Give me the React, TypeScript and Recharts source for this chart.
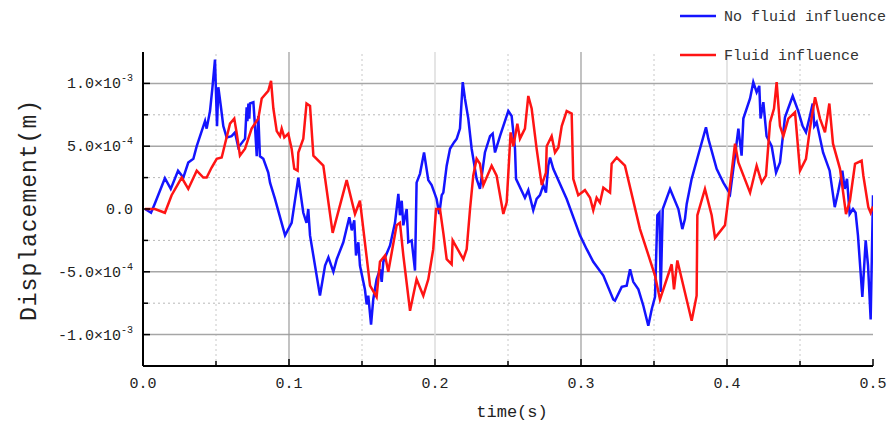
import React from 'react';
import { LineChart, Line, XAxis, YAxis, ReferenceLine } from 'recharts';

// time (s) and displacement (x10^-3 m)
const blueT = [
  0.0014, 0.0055, 0.008, 0.015, 0.019, 0.024, 0.0276, 0.031, 0.0345, 0.0368,
  0.0402, 0.0425, 0.0436, 0.0459, 0.0475, 0.0493, 0.0507, 0.0516, 0.0534, 0.055,
  0.0573, 0.0607, 0.063, 0.0653, 0.0699, 0.071, 0.0715, 0.0722, 0.0728, 0.0733,
  0.0756, 0.0767, 0.0779, 0.079, 0.0801, 0.0824, 0.0858, 0.087, 0.0904, 0.0973,
  0.1018, 0.1064, 0.1098, 0.112, 0.1132, 0.1144, 0.1212, 0.1247, 0.127, 0.1304,
  0.1327, 0.1372, 0.1413, 0.143, 0.1447, 0.1459, 0.1475, 0.1486, 0.152, 0.1532,
  0.1543, 0.1562, 0.1577, 0.16, 0.1623, 0.1635, 0.1646, 0.1692, 0.1726, 0.1749,
  0.176, 0.1772, 0.1783, 0.1806, 0.1817, 0.184, 0.1863, 0.1874, 0.1897, 0.1925,
  0.1954, 0.1977, 0.2011, 0.2029, 0.2046, 0.2057, 0.208, 0.2103, 0.213, 0.2149,
  0.2171, 0.219, 0.2205, 0.2228, 0.2251, 0.2285, 0.2308, 0.2342, 0.2377, 0.2395,
  0.2411, 0.2445, 0.2502, 0.2525, 0.2548, 0.2555, 0.2616, 0.2639, 0.2673, 0.2696,
  0.2719, 0.2742, 0.276, 0.2776, 0.2788, 0.281, 0.2902, 0.2993, 0.3039, 0.3084,
  0.3153, 0.3221, 0.3233, 0.3279, 0.3313, 0.3336, 0.3358, 0.3393, 0.3427, 0.3461,
  0.3484, 0.3507, 0.3523, 0.3537, 0.3546, 0.356, 0.361, 0.3667, 0.3694, 0.3712,
  0.3724, 0.3758, 0.3815, 0.3856, 0.3872, 0.3929, 0.3952, 0.3975, 0.4021, 0.4055,
  0.4078, 0.41, 0.4112, 0.4158, 0.418, 0.4203, 0.4221, 0.423, 0.4249, 0.4271,
  0.4306, 0.4336, 0.4363, 0.4397, 0.445, 0.4488, 0.4518, 0.4541, 0.4568, 0.4587,
  0.4598, 0.4614, 0.4658, 0.4703, 0.4738, 0.476, 0.479, 0.4806, 0.4822, 0.484,
  0.4863, 0.4881, 0.4897, 0.4927, 0.495, 0.4966, 0.4984, 0.5,
];
const blueV = [
  0, -0.03, 0.04, 0.245, 0.16, 0.305, 0.25, 0.37, 0.4, 0.5,
  0.62, 0.7, 0.64, 0.78, 0.96, 1.19, 0.66, 0.97, 0.81, 0.66,
  0.57, 0.58, 0.61, 0.49, 0.56, 0.81, 0.7, 0.84, 0.72, 0.84,
  0.85, 0.66, 0.42, 0.74, 0.42, 0.4, 0.29, 0.21, 0.08, -0.21,
  -0.11, 0.25, -0.03, -0.11, 0, -0.21, -0.69, -0.45, -0.385, -0.5,
  -0.4, -0.265, -0.066, -0.17, -0.09, -0.37, -0.265, -0.45, -0.64, -0.76,
  -0.69, -0.92, -0.72, -0.56, -0.48, -0.58, -0.42, -0.29, -0.11, 0.12,
  -0.05, 0.066, -0.13, 0, -0.265, -0.25, -0.49, 0.21, 0.28, 0.45,
  0.23, 0.19, 0.08, -0.04, 0.11, 0.13, 0.345, 0.48, 0.53, 0.56,
  0.64, 1.01, 0.88, 0.72, 0.48, 0.24, 0.16, 0.45, 0.58, 0.6,
  0.45, 0.58, 0.78, 0.74, 0.48, 0.24, 0.09, 0.15, -0.01, 0.08,
  0.11, 0.19, 0.13, 0.345, 0.41, 0.32, 0.08, -0.21, -0.32, -0.42,
  -0.53, -0.72, -0.73, -0.62, -0.61, -0.48, -0.58, -0.64, -0.77, -0.93,
  -0.8, -0.7, -0.05, -0.03, -0.66, 0, 0.16, 0, -0.16, -0.08,
  0.04, 0.24, 0.48, 0.65, 0.56, 0.32, 0.265, 0.21, 0.12, 0.425,
  0.64, 0.425, 0.72, 0.88, 1.01, 0.93, 0.98, 0.72, 0.85, 0.58,
  0.5, 0.29, 0.37, 0.73, 0.9, 0.78, 0.66, 0.61, 0.74, 0.84,
  0.66, 0.69, 0.45, 0.305, 0.015, 0.13, 0.305, 0.16, 0.24, -0.04,
  0, -0.03, -0.21, -0.7, -0.25, -0.45, -0.88, 0.11,
];

const redT = [
  0.0014, 0.0082, 0.015, 0.0196, 0.0265, 0.031, 0.0368, 0.0413, 0.0436, 0.047,
  0.0505, 0.0539, 0.0562, 0.0596, 0.0625, 0.0641, 0.0664, 0.0699, 0.0744, 0.079,
  0.0813, 0.0858, 0.0877, 0.0893, 0.0916, 0.0938, 0.095, 0.0968, 0.0995, 0.1018,
  0.1036, 0.1059, 0.1064, 0.1098, 0.112, 0.1144, 0.1167, 0.1235, 0.1299, 0.1395,
  0.1452, 0.1486, 0.1555, 0.16, 0.1623, 0.1658, 0.168, 0.1737, 0.176, 0.1783,
  0.1829, 0.1874, 0.192, 0.1954, 0.1988, 0.2007, 0.2034, 0.2057, 0.208, 0.2114,
  0.2121, 0.2194, 0.2217, 0.224, 0.2262, 0.2285, 0.2308, 0.2331, 0.2388, 0.2422,
  0.2468, 0.2491, 0.2518, 0.2537, 0.2564, 0.2582, 0.2616, 0.2639, 0.2662, 0.2696,
  0.2731, 0.276, 0.2765, 0.2799, 0.2822, 0.2845, 0.2868, 0.2902, 0.2936, 0.2947,
  0.2981, 0.3027, 0.3062, 0.3084, 0.3107, 0.313, 0.3153, 0.3199, 0.321, 0.3245,
  0.3301, 0.3404, 0.3507, 0.3541, 0.3621, 0.3637, 0.366, 0.3758, 0.3792, 0.3797,
  0.3849, 0.3895, 0.3918, 0.3986, 0.4021, 0.4055, 0.4078, 0.4158, 0.4203, 0.4238,
  0.4267, 0.4295, 0.4322, 0.434, 0.4363, 0.4386, 0.442, 0.4466, 0.45, 0.4541,
  0.4568, 0.4603, 0.4637, 0.4671, 0.4701, 0.4726, 0.4774, 0.4815, 0.4842, 0.4877,
  0.4922, 0.4934, 0.4968, 0.4984, 0.5,
];
const redV = [
  0, 0, -0.03, 0.11, 0.25, 0.16, 0.305, 0.25, 0.25, 0.33,
  0.4, 0.41, 0.52, 0.68, 0.72, 0.61, 0.425, 0.48, 0.64, 0.72,
  0.88, 0.94, 1.02, 0.8, 0.62, 0.58, 0.64, 0.57, 0.6, 0.48,
  0.32, 0.305, 0.45, 0.56, 0.84, 0.82, 0.425, 0.345, -0.19, 0.23,
  -0.04, 0.066, -0.61, -0.7, -0.42, -0.37, -0.5, -0.13, -0.11, -0.37,
  -0.81, -0.56, -0.69, -0.56, -0.32, 0, 0, -0.19, -0.4, -0.44,
  -0.25, -0.4, -0.32, 0, 0.265, 0.4, 0.36, 0.19, 0.345, 0.265,
  -0.04, 0.053, 0.61, 0.5, 0.68, 0.56, 0.64, 0.9, 0.8, 0.48,
  0.19, 0.29, 0.5, 0.58, 0.45, 0.49, 0.66, 0.78, 0.76, 0.24,
  0.11, 0.15, 0.09, -0.01, 0.09, 0.05, 0.17, 0.13, 0.36, 0.41,
  0.345, -0.16, -0.53, -0.72, -0.44, -0.64, -0.41, -0.89, -0.69, -0.05,
  0.16, -0.05, -0.23, -0.13, 0.19, 0.52, 0.37, 0.13, 0.345, 0.21,
  0.265, 0.69, 0.8, 1.01, 0.66, 0.58, 0.72, 0.77, 0.305, 0.4,
  0.64, 0.89, 0.72, 0.61, 0.84, 0.52, 0.32, -0.04, 0.066, 0.36,
  0.385, 0.265, 0.015, -0.03, 0.02,
];

const seriesNames = ['No fluid influence', 'Fluid influence'];
const seriesColors = ['#1414ff', '#ff1414'];

const xTicks = [0, 0.05, 0.1, 0.15, 0.2, 0.25, 0.3, 0.35, 0.4, 0.45, 0.5];
const xLabels = ['0.0', '', '0.1', '', '0.2', '', '0.3', '', '0.4', '', '0.5'];
const yTicks = [-0.001, -0.00075, -0.0005, -0.00025, 0, 0.00025, 0.0005, 0.00075, 0.001];
const yLabels = ['-1.0×10^-3', '', '-5.0×10^-4', '', '0.0', '', '5.0×10^-4', '', '1.0×10^-3'];

const xGridDark = [0.1, 0.3];
const xGridLight = [0.2, 0.4];
const xGridDotted = [0.05, 0.15, 0.25, 0.35, 0.45];
const yGridSolid = [-0.001, -0.0005, 0.0005, 0.001];
const yGridDotted = [-0.00075, -0.00025, 0.00025, 0.00075];

const blueData = blueT.map((t, i) => ({ t, v: blueV[i] * 1e-3 }));
const redData = redT.map((t, i) => ({ t, v: redV[i] * 1e-3 }));

const FONT = '"Liberation Mono", "DejaVu Sans Mono", monospace';

const findIdx = (arr: number[], v: number) => arr.findIndex(a => Math.abs(a - v) < 1e-9);

const YTick = (props: any) => {
  const { x, y, payload } = props;
  const label = yLabels[findIdx(yTicks, payload.value)] || '';
  const major = label !== '';
  const [mant, exp] = label.split('^');
  return (
    <g>
      <line x1={x} x2={x + (major ? 7 : 5)} y1={y} y2={y} stroke="#000" strokeWidth={1.5} />
      {major && (
        <text x={x - 10} y={y + 5} textAnchor="end" fontFamily={FONT} fontSize={15} fill="#222">
          {mant}
          {exp && <tspan dy={-7} fontSize={10}>{exp}</tspan>}
        </text>
      )}
    </g>
  );
};

const XTick = (props: any) => {
  const { x, y, payload } = props;
  const label = xLabels[findIdx(xTicks, payload.value)] || '';
  const major = label !== '';
  return (
    <g>
      <line x1={x} x2={x} y1={y} y2={y - (major ? 7 : 5)} stroke="#000" strokeWidth={1.5} />
      {major && (
        <text x={x} y={y + 22} textAnchor="middle" fontFamily={FONT} fontSize={15} fill="#222">
          {label}
        </text>
      )}
    </g>
  );
};

export default function App() {
  return (
    <div style={{ position: 'absolute', left: 0, top: 0, width: 890, height: 430, background: '#fff' }}>
      <LineChart width={890} height={430} margin={{ top: 52, right: 17, bottom: 0, left: 0 }}>
        <XAxis
          type="number"
          dataKey="t"
          domain={[0, 0.5]}
          ticks={xTicks}
          height={64}
          tickSize={0}
          tickMargin={0}
          tickLine={false}
          tick={<XTick />}
          axisLine={{ stroke: '#000', strokeWidth: 2 }}
          allowDataOverflow
        />
        <YAxis
          type="number"
          domain={[-0.00125, 0.00125]}
          ticks={yTicks}
          width={143}
          tickSize={0}
          tickMargin={0}
          tickLine={false}
          tick={<YTick />}
          axisLine={{ stroke: '#000', strokeWidth: 2 }}
          allowDataOverflow
        />
        {yGridDotted.map(v => (
          <ReferenceLine key={'yd' + v} y={v} stroke="#b8b8b8" strokeDasharray="2 3" />
        ))}
        {xGridDotted.map(v => (
          <ReferenceLine key={'xd' + v} x={v} stroke="#c8c8c8" strokeDasharray="2 3" />
        ))}
        <ReferenceLine y={0} stroke="#dadada" strokeWidth={1.5} />
        {yGridSolid.map(v => (
          <ReferenceLine key={'ys' + v} y={v} stroke="#a6a6a6" strokeWidth={1.5} />
        ))}
        {xGridLight.map(v => (
          <ReferenceLine key={'xl' + v} x={v} stroke="#dcdcdc" strokeWidth={1.5} />
        ))}
        {xGridDark.map(v => (
          <ReferenceLine key={'xk' + v} x={v} stroke="#9a9a9a" strokeWidth={1.2} />
        ))}
        <Line
          data={blueData}
          dataKey="v"
          name={seriesNames[0]}
          type="linear"
          stroke={seriesColors[0]}
          strokeWidth={2.5}
          dot={false}
          isAnimationActive={false}
        />
        <Line
          data={redData}
          dataKey="v"
          name={seriesNames[1]}
          type="linear"
          stroke={seriesColors[1]}
          strokeWidth={2.5}
          dot={false}
          isAnimationActive={false}
        />
      </LineChart>
      <svg width={890} height={430} style={{ position: 'absolute', left: 0, top: 0, pointerEvents: 'none' }}>
        <line x1={680} x2={716} y1={16} y2={16} stroke={seriesColors[0]} strokeWidth={2.5} />
        <text x={724} y={21} fontFamily={FONT} fontSize={15} fill="#333">{seriesNames[0]}</text>
        <line x1={680} x2={716} y1={55} y2={55} stroke={seriesColors[1]} strokeWidth={2.5} />
        <text x={724} y={60} fontFamily={FONT} fontSize={15} fill="#333">{seriesNames[1]}</text>
        <text
          x={30}
          y={210}
          transform="rotate(-90 30 210)"
          textAnchor="middle"
          dominantBaseline="central"
          fontFamily={FONT}
          fontSize={23}
          letterSpacing={1}
          fill="#222"
        >
          Displacement(m)
        </text>
        <text x={512} y={417} textAnchor="middle" fontFamily={FONT} fontSize={17} fill="#222">
          time(s)
        </text>
      </svg>
    </div>
  );
}
